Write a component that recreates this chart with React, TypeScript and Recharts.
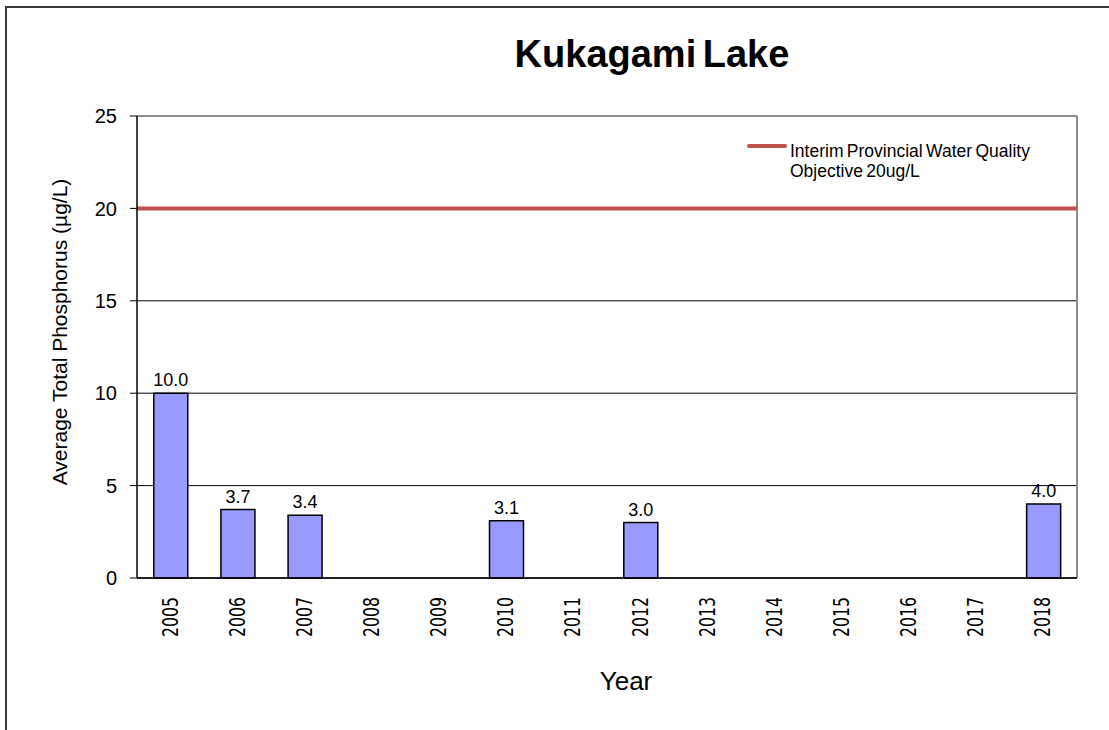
import React from 'react'
import {
  BarChart, Bar, XAxis, YAxis, CartesianGrid, ReferenceLine, LabelList, Label,
} from 'recharts'

const years = ['2005', '2006', '2007', '2008', '2009', '2010', '2011', '2012', '2013', '2014', '2015', '2016', '2017', '2018']
const phosphorus: (number | null)[] = [10.0, 3.7, 3.4, null, null, 3.1, null, 3.0, null, null, null, null, null, 4.0]
const objective = 20
const yTicks = [0, 5, 10, 15, 20, 25]

const data = years.map((year, i) => ({ year, value: phosphorus[i] }))

const ARIAL = '"Liberation Sans", Arial, sans-serif'
const RED = '#c0504d'
const FRAME = '#8c8c8c'

// rotated year labels, squeezed a little like the original
const YearTick = ({ x, y, payload }: any) => (
  <text
    x={x}
    y={y}
    transform={`rotate(-90, ${x}, ${y})`}
    textAnchor="end"
    dominantBaseline="central"
    fontFamily='"DejaVu Sans", sans-serif'
    fontSize={21}
    textLength={40}
    lengthAdjust="spacingAndGlyphs"
    fill="#000"
  >
    {payload.value}
  </text>
)

export default function App() {
  return (
    <div style={{ position: 'absolute', left: 0, top: 0, width: 1109, height: 730, overflow: 'hidden', background: '#fff' }}>
      {/* outer frame, runs off the right and bottom edges */}
      <div style={{ position: 'absolute', left: 5, top: 6, width: 1130, height: 760, border: '2px solid #3c3c3c' }} />

      <div style={{
        position: 'absolute', left: 452, top: 34, width: 400, lineHeight: '40px', textAlign: 'center',
        fontFamily: ARIAL, fontWeight: 'bold', fontSize: 38, wordSpacing: -4, color: '#000',
      }}>
        Kukagami Lake
      </div>

      <div style={{ position: 'absolute', left: 0, top: 0 }}>
        <BarChart
          width={1109}
          height={730}
          data={data}
          margin={{ top: 116, right: 32, bottom: 92, left: 57 }}
          barCategoryGap="25%"
        >
          <CartesianGrid vertical={false} stroke="#000" strokeWidth={1} />
          <XAxis
            dataKey="year"
            height={60}
            interval={0}
            tickLine={false}
            tickMargin={13}
            tick={<YearTick />}
            axisLine={{ stroke: '#000', strokeWidth: 1.5 }}
          >
            <Label
              content={({ viewBox }: any) => (
                <text
                  x={viewBox.x + viewBox.width / 2 + 19}
                  y={viewBox.y + 112}
                  textAnchor="middle"
                  fontFamily={ARIAL}
                  fontSize={26}
                  fill="#000"
                >
                  Year
                </text>
              )}
            />
          </XAxis>
          <YAxis
            width={80}
            domain={[0, 25]}
            ticks={yTicks}
            tickSize={7}
            tickMargin={13}
            tickLine={{ stroke: '#000' }}
            axisLine={{ stroke: '#000', strokeWidth: 1.5 }}
            tick={{ fill: '#000', fontSize: 20, fontFamily: ARIAL }}
          >
            <Label
              content={({ viewBox }: any) => {
                const cx = viewBox.x + 2
                const cy = viewBox.y + viewBox.height / 2 - 15
                return (
                  <text
                    x={cx}
                    y={cy}
                    transform={`rotate(-90, ${cx}, ${cy})`}
                    textAnchor="middle"
                    dominantBaseline="central"
                    fontFamily={ARIAL}
                    fontSize={21}
                    fill="#000"
                  >
                    Average Total Phosphorus  (µg/L)
                  </text>
                )
              }}
            />
          </YAxis>

          {/* grey plot frame on top and right */}
          <ReferenceLine y={25} stroke={FRAME} strokeWidth={2} />
          <ReferenceLine x="2018" position="end" stroke={FRAME} strokeWidth={2} />

          <Bar dataKey="value" fill="#9999ff" stroke="#000" strokeWidth={1.5} isAnimationActive={false}>
            <LabelList
              dataKey="value"
              position="top"
              offset={7}
              formatter={(v: any) => (v == null ? '' : Number(v).toFixed(1))}
              style={{ fill: '#000', fontSize: 18, fontFamily: ARIAL }}
            />
          </Bar>
          <ReferenceLine y={objective} stroke={RED} strokeWidth={4} />
        </BarChart>
      </div>

      {/* legend for the objective line */}
      <div style={{ position: 'absolute', left: 747, top: 141, display: 'flex', fontFamily: ARIAL, fontSize: 17.5, color: '#000' }}>
        <div style={{ width: 40, height: 4, background: RED, borderRadius: 2, marginTop: 3, marginRight: 3 }} />
        <div style={{ lineHeight: '20px', wordSpacing: -1.5 }}>
          Interim Provincial Water Quality
          <br />
          Objective 20ug/L
        </div>
      </div>
    </div>
  )
}
